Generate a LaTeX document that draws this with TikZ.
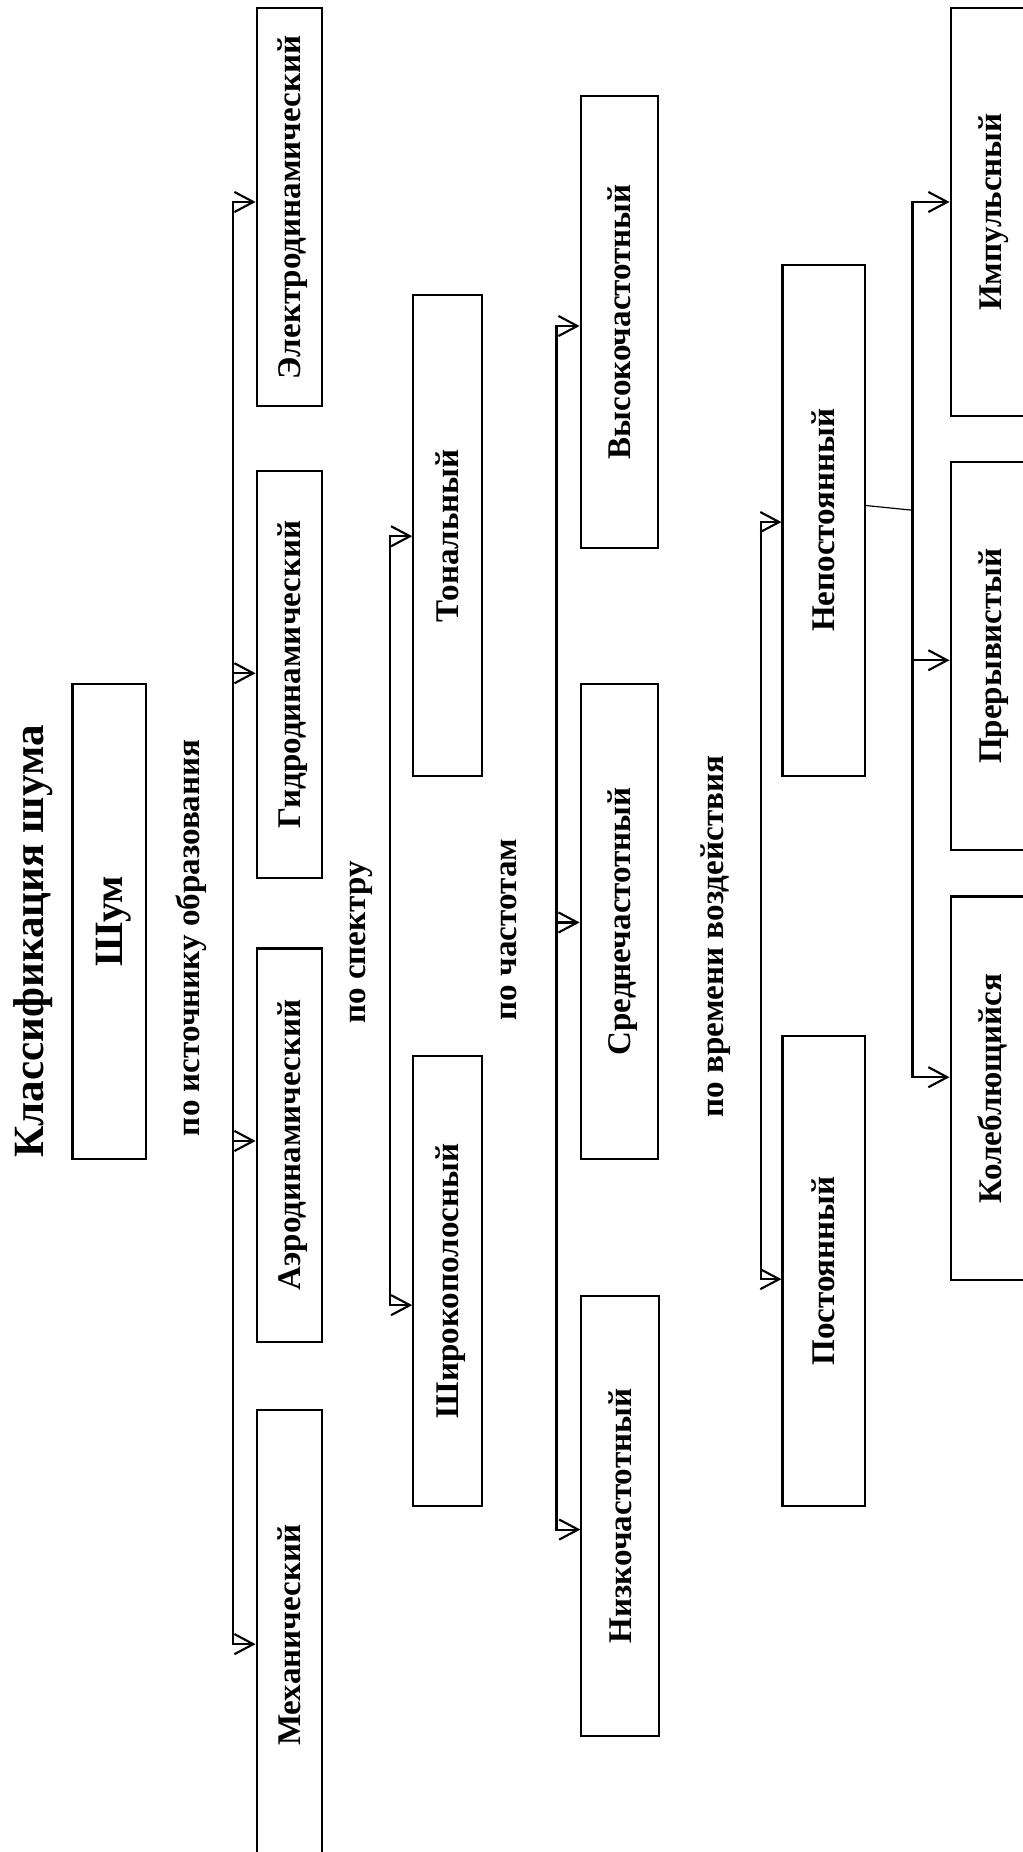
\documentclass[tikz,border=0pt]{standalone}
\usepackage{fontspec}
\setmainfont{Liberation Serif}
\usetikzlibrary{arrows.meta}

\tikzset{
  box/.style={draw, rotate=90, inner sep=0pt, font=\bfseries\fontsize{28}{30}\selectfont,
    text height=18.5pt, text depth=0pt},
  lbl/.style={rotate=90, inner sep=0pt, font=\bfseries\fontsize{28}{30}\selectfont,
    text height=18.5pt, text depth=0pt},
}

\begin{document}
\begin{tikzpicture}[x=1pt, y=-1pt, >={Straight Barb[length=16pt,width=17pt]}, line width=1.8pt]
\useasboundingbox (0,0) rectangle (866,1568);
\clip (0,0) rectangle (866,1568);

% заголовок и корень
\node[lbl, font=\bfseries\fontsize{36.5}{38}\selectfont, text height=24pt] (title) at (24.5,797) {Классификация шума};
\node[box, minimum width=402pt, minimum height=62pt, font=\bfseries\fontsize{34}{36}\selectfont, text height=22.4pt] (shum) at (92.4,780) {Шум};

% подписи признаков
\node[lbl] (src) at (160,794) {по источнику образования};
\node[lbl] (spec) at (300,798) {по спектру};
\node[lbl] (freq) at (428,787) {по частотам};
\node[lbl] (time) at (603,793) {по времени воздействия};

% по источнику образования
\node[box, minimum width=337pt, minimum height=55.6pt] (electro) at (245.1,175.5) {Электродинамический};
\node[box, minimum width=344pt, minimum height=55.6pt] (hydro) at (245.1,571) {Гидродинамический};
\node[box, minimum width=333pt, minimum height=55.6pt] (aero) at (245.1,969.5) {Аэродинамический};
\node[box, minimum width=381pt, minimum height=55.6pt] (mech) at (245.1,1384.5) {Механический};

% по спектру
\node[box, minimum width=407pt, minimum height=58.4pt] (tonal) at (379.1,453.5) {Тональный};
\node[box, minimum width=381pt, minimum height=58.4pt] (broad) at (379.1,1084.5) {Широкополосный};

% по частотам
\node[box, minimum width=383pt, minimum height=65.1pt] (high) at (524.2,272.5) {Высокочастотный};
\node[box, minimum width=402pt, minimum height=65.1pt] (mid) at (524.2,780) {Среднечастотный};
\node[box, minimum width=373pt, minimum height=65.5pt] (low) at (525,1283.5) {Низкочастотный};

% по времени воздействия
\node[box, minimum width=433pt, minimum height=69.8pt] (nonconst) at (697.4,440.5) {Непостоянный};
\node[box, minimum width=398pt, minimum height=69.8pt] (const) at (697.4,1076) {Постоянный};
\node[box, minimum width=345pt, minimum height=68.2pt] (imp) at (838.9,179.5) {Импульсный};
\node[box, minimum width=329pt, minimum height=68.2pt] (inter) at (838.9,555.5) {Прерывистый};
\node[box, minimum width=325pt, minimum height=68.2pt] (osc) at (838.9,921.5) {Колеблющийся};

% шины со стрелками
\coordinate (b1a) at (197.5,171);
\coordinate (b1b) at (197.5,570);
\coordinate (b1c) at (197.5,966);
\coordinate (b1d) at (197.5,1392);
\draw[<->] (b1a -| electro.north) -- (b1a) -- (b1d) -- (b1d -| mech.north);
\draw[->] (b1b) -- (b1b -| hydro.north);
\draw[->] (b1c) -- (b1c -| aero.north);

\coordinate (b2a) at (330.2,454);
\coordinate (b2b) at (330.2,1105);
\draw[<->] (b2a -| tonal.north) -- (b2a) -- (b2b) -- (b2b -| broad.north);

\coordinate (b3a) at (471.2,276);
\coordinate (b3b) at (471.2,781);
\coordinate (b3c) at (471.2,1295);
\draw[<->] (b3a -| high.north) -- (b3a) -- (b3c) -- (b3c -| low.north);
\draw[->] (b3b) -- (b3b -| mid.north);

\coordinate (b4a) at (644,442);
\coordinate (b4b) at (644,1083);
\draw[<->] (b4a -| nonconst.north) -- (b4a) -- (b4b) -- (b4b -| const.north);

\coordinate (b5a) at (772.6,171);
\coordinate (b5b) at (772.6,559);
\coordinate (b5c) at (772.6,912);
\coordinate (b5j) at (772.6,432);
\draw[<->] (b5a -| imp.north) -- (b5a) -- (b5c) -- (b5c -| osc.north);
\draw[->] (b5b) -- (b5b -| inter.north);
\draw[line width=1pt] (nonconst.south) ++(0,-12.5) -- (b5j);
\end{tikzpicture}
\end{document}
